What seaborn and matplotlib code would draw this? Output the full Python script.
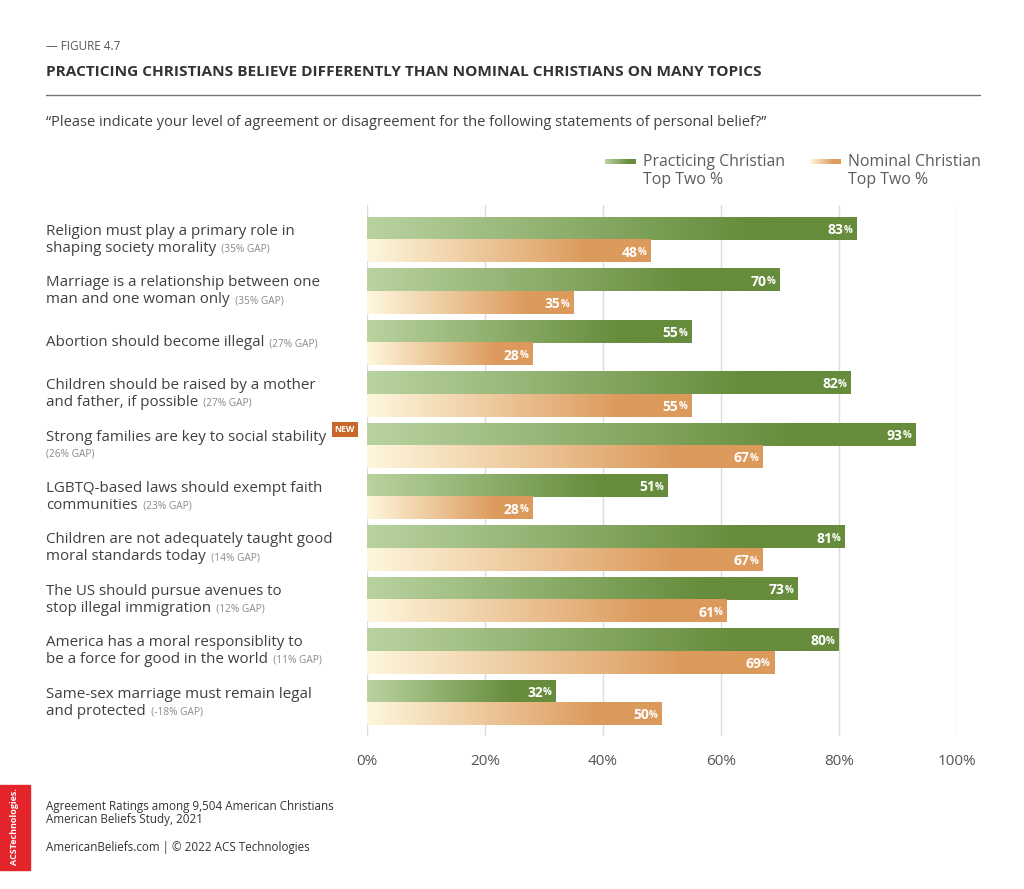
import numpy as np
import pandas as pd
import matplotlib
matplotlib.use('Agg')
import matplotlib.pyplot as plt
import matplotlib.transforms as mtransforms
from matplotlib.colors import LinearSegmentedColormap
from matplotlib.patches import Rectangle
import seaborn as sns

# --- data -------------------------------------------------------------------
statements = [
    ("Religion must play a primary role in", "shaping society morality"),
    ("Marriage is a relationship between one", "man and one woman only"),
    ("Abortion should become illegal", None),
    ("Children should be raised by a mother", "and father, if possible"),
    ("Strong families are key to social stability", ""),
    ("LGBTQ-based laws should exempt faith", "communities"),
    ("Children are not adequately taught good", "moral standards today"),
    ("The US should pursue avenues to", "stop illegal immigration"),
    ("America has a moral responsiblity to", "be a force for good in the world"),
    ("Same-sex marriage must remain legal", "and protected"),
]
gaps = ["35% GAP", "35% GAP", "27% GAP", "27% GAP", "26% GAP",
        "23% GAP", "14% GAP", "12% GAP", "11% GAP", "-18% GAP"]
practicing = [83, 70, 55, 82, 93, 51, 81, 73, 80, 32]
nominal = [48, 35, 28, 55, 67, 28, 67, 61, 69, 50]
series = ["Practicing Christian\nTop Two %", "Nominal Christian\nTop Two %"]
x_ticks = [0, 20, 40, 60, 80, 100]

GREEN = ("#b9d3a0", "#668c3c")
ORANGE = ("#fef7dd", "#dc9a5c")
TEXT = "#404040"
GRAY = "#8a8a8a"

sns.set_style("white")
plt.rcParams['font.family'] = ['Open Sans', 'DejaVu Sans']

cats = [f"s{i}" for i in range(len(statements))]
df = pd.DataFrame({
    "cat": cats * 2,
    "value": practicing + nominal,
    "group": [series[0]] * len(cats) + [series[1]] * len(cats),
})

fig = plt.figure(figsize=(10.24, 8.89), dpi=100)
ax = fig.add_axes([367 / 1024, 1 - 736 / 889, 590 / 1024, 531 / 889])

sns.barplot(data=df, y="cat", x="value", hue="group", orient="h",
            width=0.875, palette=[GREEN[1], ORANGE[1]], ax=ax,
            legend=False, saturation=1, errorbar=None)


def ramp(c0, c1):
    return LinearSegmentedColormap.from_list("r", [(0, c0), (0.78, c1), (1, c1)])


cmaps = {0: ramp(*GREEN), 1: ramp(*ORANGE)}
grad = np.linspace(0, 1, 256).reshape(1, -1)

# swap each flat bar for a gradient strip
n = len(cats)
for i, bar in enumerate(ax.patches[:2 * n]):
    s = i // n
    x0, y0 = bar.get_x(), bar.get_y()
    w, h = bar.get_width(), bar.get_height()
    bar.set_visible(False)
    ax.imshow(grad, cmap=cmaps[s], aspect="auto", interpolation="bicubic",
              extent=[x0, x0 + w, y0 + h, y0], zorder=2)
    # value label: bold number + small percent sign
    pct = ax.text(x0 + w - 0.7, y0 + h / 2 + 0.03, "%", ha="right", va="center",
                  color="white", fontsize=7, fontweight="bold", zorder=3)
    ax.annotate(f"{int(round(w))}", xy=(0, 0.5), xycoords=pct,
                ha="right", va="center", color="white", fontsize=10,
                fontweight="bold", zorder=3)

ax.set_ylim(9.65, -0.68)
ax.set_xlim(0, 100)

ax.set_xticks(x_ticks)
ax.set_xticklabels([f"{t}%" for t in x_ticks])
ax.tick_params(axis="x", length=0, pad=13, labelsize=11, labelcolor="#555555")
ax.set_yticks([])
ax.set_xlabel("")
ax.set_ylabel("")
ax.grid(axis="x", color="#dcdcdc", linewidth=1, zorder=0)
ax.set_axisbelow(True)
for sp in ax.spines.values():
    sp.set_visible(False)

# statement labels on the left
trans = mtransforms.blended_transform_factory(fig.transFigure, ax.transData)
lx = 46 / 1024
dy = 0.165
LBL = 10.9
GAPSZ = 7.3
for i, (l1, l2) in enumerate(statements):
    if l2 is None:
        t = ax.text(lx, i, l1, transform=trans, ha="left", va="center",
                    fontsize=LBL, color=TEXT)
        ax.annotate(f"  ({gaps[i]})", xy=(1, 0.45), xycoords=t, ha="left",
                    va="center", fontsize=GAPSZ, color=GRAY)
        continue
    t1 = ax.text(lx, i - dy, l1, transform=trans, ha="left", va="center",
                 fontsize=LBL, color=TEXT)
    if l2:
        t2 = ax.text(lx, i + dy, l2, transform=trans, ha="left", va="center",
                     fontsize=LBL, color=TEXT)
        ax.annotate(f"  ({gaps[i]})", xy=(1, 0.45), xycoords=t2, ha="left",
                    va="center", fontsize=GAPSZ, color=GRAY)
    else:
        ax.text(lx, i + dy, f"({gaps[i]})", transform=trans, ha="left",
                va="center", fontsize=GAPSZ, color=GRAY)
        ax.annotate("NEW", xy=(1, 1), xycoords=t1, xytext=(6, 0),
                    textcoords="offset points", ha="left", va="center",
                    fontsize=6.3, fontweight="bold", color="white",
                    bbox=dict(boxstyle="square,pad=0.35", fc="#c8682a", ec="none"))

# legend (top right)
for sx, tx, cm, lab in [(605, 643, cmaps[0], series[0]), (810, 848, cmaps[1], series[1])]:
    lax = fig.add_axes([sx / 1024, 1 - 164 / 889, 31 / 1024, 5 / 889])
    lax.imshow(grad, cmap=cm, aspect="auto", extent=[0, 1, 0, 1])
    lax.axis("off")
    fig.text(tx / 1024, 1 - 171 / 889, lab, ha="left", va="center",
             fontsize=11.4, color="#5c5c5c", linespacing=1.15)

# header
fig.text(46 / 1024, 1 - 47 / 889, "— FIGURE 4.7", fontsize=8.5, color="#555555",
         va="center")
fig.text(46 / 1024, 1 - 72 / 889,
         "PRACTICING CHRISTIANS BELIEVE DIFFERENTLY THAN NOMINAL CHRISTIANS ON MANY TOPICS",
         fontsize=11.1, fontweight="bold", color="#333333", va="center")
fig.add_artist(plt.Line2D([46 / 1024, 980 / 1024], [1 - 95 / 889] * 2,
                          color="#777777", linewidth=1))
fig.text(46 / 1024, 1 - 122 / 889,
         "\u201cPlease indicate your level of agreement or disagreement for the following statements of personal belief?\u201d",
         fontsize=10.5, color=TEXT, va="center")

# footer
fig.add_artist(Rectangle((0, 1 - 870 / 889), 30 / 1024, 85 / 889,
                         transform=fig.transFigure, color="#e3242b"))
fig.text(15 / 1024, 1 - 827 / 889, "ACSTechnologies.", rotation=90,
         ha="center", va="center", fontsize=6.5, fontweight="bold", color="white")
fig.text(46 / 1024, 1 - 813 / 889,
         "Agreement Ratings among 9,504 American Christians\nAmerican Beliefs Study, 2021",
         fontsize=8.4, color="#333333", va="center", linespacing=1.0)
fig.text(46 / 1024, 1 - 847 / 889, "AmericanBeliefs.com | © 2022 ACS Technologies",
         fontsize=8.4, color="#333333", va="center")

fig.savefig("out.png", dpi=100, facecolor="white")
plt.close(fig)
